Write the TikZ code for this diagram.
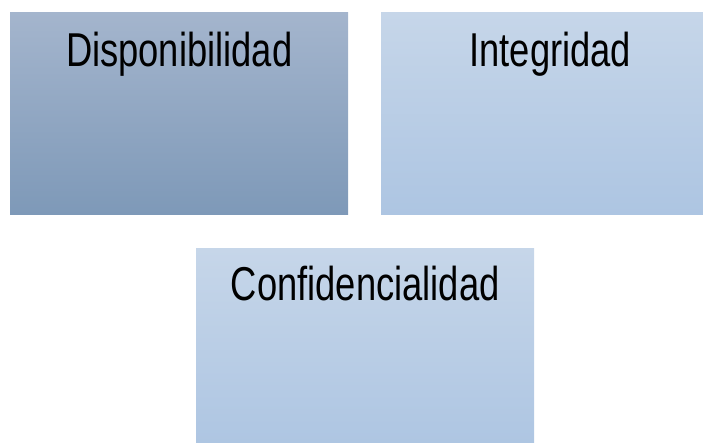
\documentclass[tikz,border=0pt]{standalone}
\usepackage{fontspec}
\newfontfamily\boxfont[FakeStretch=0.765]{Liberation Sans}
\usetikzlibrary{positioning}
\definecolor{darktop}{HTML}{A4B5CD}
\definecolor{darkbot}{HTML}{7E99B8}
\definecolor{lighttop}{HTML}{C6D6E9}
\definecolor{lightbot}{HTML}{ADC5E2}

\begin{document}
\begin{tikzpicture}[x=1pt, y=1pt,
  infobox/.style={rectangle, inner sep=0pt, minimum width=338pt, minimum height=202pt, anchor=north west},
  darkbox/.style={infobox, top color=darktop, bottom color=darkbot},
  lightbox/.style={infobox, top color=lighttop, bottom color=lightbot},
  boxlabel/.style={anchor=base, inner sep=0pt, font=\boxfont\fontsize{47.5}{57}\selectfont}]
\useasboundingbox (0,0) rectangle (703,-443);
\clip (0,0) rectangle (703,-443);
\node [darkbox] (disp) at (10,-12) {};
\node [lightbox] (integ) at (381,-12) {};
\node [lightbox] (conf) at (196,-248) {};
\node [boxlabel] (displabel) at ([yshift=-55pt]disp.north) {Disponibilidad};
\node [boxlabel] (integlabel) at ([yshift=-55pt]integ.north) {Integridad};
\node [boxlabel] (conflabel) at ([yshift=-52pt]conf.north) {Confidencialidad};
\end{tikzpicture}
\end{document}
